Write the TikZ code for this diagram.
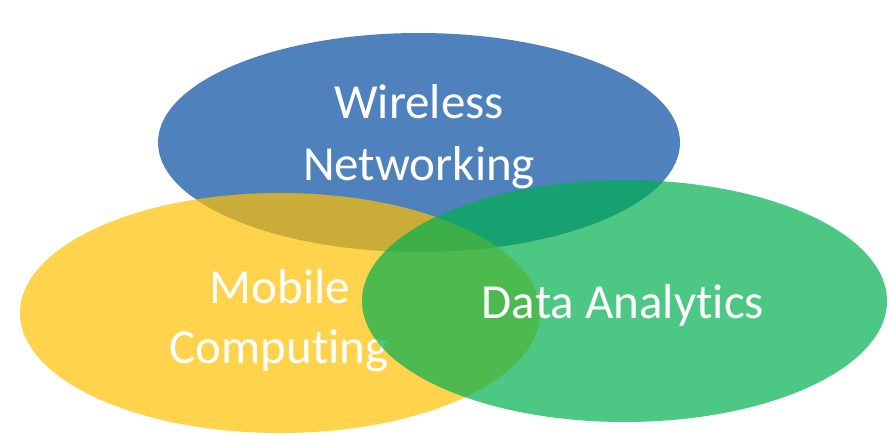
\documentclass[tikz,border=0pt]{standalone}
\usepackage{fontspec}
\setmainfont{Carlito}[Ligatures=NoCommon]
\usetikzlibrary{shapes.geometric}
\definecolor{wnblue}{HTML}{4F81BD}
\definecolor{mcyellow}{HTML}{FFC000}
\definecolor{dagreen}{HTML}{00B050}
\begin{document}
\begin{tikzpicture}[x=1pt,y=-1pt,
  blob/.style={ellipse, draw=none, inner sep=0pt, outer sep=0pt},
  lbl/.style={text=white, font=\fontsize{49}{58}\selectfont, anchor=base, inner sep=0pt}]
\useasboundingbox (0,0) rectangle (890,434);
% blue
\node[blob, fill=wnblue, minimum width=522pt, minimum height=219pt] (wn) at (419,142.5) {};
\node[lbl] (wn1) at (419,118) {Wireless};
\node[lbl] (wn2) at (419,180) {Networking};
% yellow
\node[blob, fill=mcyellow, fill opacity=0.7, minimum width=520pt, minimum height=240pt] (mc) at (280,313) {};
\node[lbl] (mc1) at (280,303) {Mobile};
\node[lbl] (mc2) at (279,363) {Computing};
% green
\node[blob, fill=dagreen, fill opacity=0.7, minimum width=525pt, minimum height=242pt] (da) at (624.5,301) {};
\node[lbl] (da1) at (623,318) {Data Analytics};
\end{tikzpicture}
\end{document}
